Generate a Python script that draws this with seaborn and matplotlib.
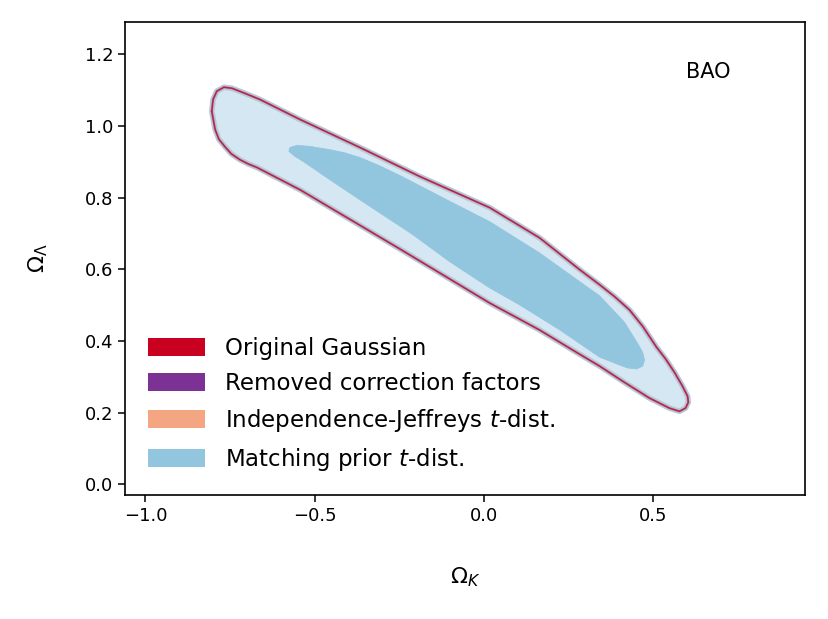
import matplotlib.pyplot as plt
import seaborn as sns
from matplotlib.patches import Patch

# === Contour outlines (Omega_K, Omega_Lambda) ===
# outer (95%) contour, shared by the four posteriors
outer_k = [-0.804, -0.800, -0.789, -0.768, -0.744, -0.706, -0.662, -0.543, -0.366, -0.189,
           0.018, 0.165, 0.284, 0.343, 0.387, 0.431, 0.471, 0.511, 0.538, 0.564,
           0.588, 0.603, 0.605, 0.597, 0.579, 0.549, 0.490, 0.411, 0.343, 0.263,
           0.165, 0.018, -0.130, -0.248, -0.366, -0.543, -0.670, -0.696, -0.721, -0.746,
           -0.765, -0.783, -0.794]
outer_l = [1.041, 1.074, 1.097, 1.108, 1.105, 1.091, 1.074, 1.018, 0.940, 0.859,
           0.772, 0.688, 0.599, 0.557, 0.524, 0.487, 0.440, 0.383, 0.350, 0.313,
           0.274, 0.246, 0.229, 0.213, 0.204, 0.213, 0.241, 0.288, 0.330, 0.375,
           0.431, 0.506, 0.590, 0.657, 0.723, 0.822, 0.884, 0.894, 0.906, 0.922,
           0.942, 0.963, 0.990]

# inner (68%) contour of the matching prior t-dist.
inner_k = [-0.576, -0.573, -0.552, -0.514, -0.455, -0.410, -0.366, -0.310, -0.248, -0.109,
           0.018, 0.165, 0.343, 0.416, 0.455, 0.470, 0.476, 0.470, 0.452, 0.425,
           0.402, 0.343, 0.225, 0.106, 0.018, -0.100, -0.210, -0.366, -0.455, -0.529,
           -0.558]
inner_l = [0.929, 0.940, 0.946, 0.943, 0.934, 0.925, 0.912, 0.890, 0.862, 0.794,
           0.733, 0.646, 0.526, 0.453, 0.394, 0.369, 0.347, 0.330, 0.322, 0.325,
           0.333, 0.355, 0.431, 0.501, 0.548, 0.621, 0.697, 0.794, 0.850, 0.898,
           0.915]

labels = ["Original Gaussian", "Removed correction factors",
          "Independence-Jeffreys $t$-dist.", "Matching prior $t$-dist."]
colors = ["#ca0020", "#7b3294", "#f4a582", "#92c5de"]
blue_light = "#d4e7f2"

sns.set_style("ticks")
plt.rcParams['font.family'] = ['DejaVu Sans']
plt.rcParams['mathtext.fontset'] = 'dejavusans'
for key in ["text.color", "axes.labelcolor", "xtick.color", "ytick.color", "axes.edgecolor"]:
    plt.rcParams[key] = "black"

fig = plt.figure(figsize=(8.29, 6.19), dpi=100)
ax = fig.add_axes([0.151, 0.2, 0.82, 0.7645])

# closed outlines
ok = outer_k + outer_k[:1]
ol = outer_l + outer_l[:1]

# matching prior: filled 95% and 68% regions
ax.fill(outer_k, outer_l, facecolor=blue_light, edgecolor="#b3cbda", lw=4,
        joinstyle="round", zorder=1)
ax.fill(inner_k, inner_l, facecolor=colors[3], edgecolor=colors[3], lw=0.5,
        joinstyle="round", zorder=3)

# the other posteriors only show up as thin edges
for c, w, a in [(colors[2], 2.0, 0.6), (colors[1], 1.4, 0.65), (colors[0], 0.8, 0.7)]:
    sns.lineplot(x=ok, y=ol, sort=False, estimator=None, color=c, lw=w,
                 alpha=a, ax=ax, zorder=2)

ax.set_xlim(-1.06, 0.95)
ax.set_ylim(-0.03, 1.29)
ax.set_xticks([-1.0, -0.5, 0.0, 0.5])
ax.set_yticks([0.0, 0.2, 0.4, 0.6, 0.8, 1.0, 1.2])
ax.tick_params(labelsize=13, length=5, width=1.1)
for s in ax.spines.values():
    s.set_linewidth(1.2)

ax.set_xlabel(r"$\Omega_K$", fontsize=16, labelpad=29)
ax.set_ylabel(r"$\Omega_\Lambda$", fontsize=16, labelpad=25)

ax.text(0.857, 0.894, "BAO", transform=ax.transAxes, ha="center", va="center", fontsize=15)

handles = [Patch(facecolor=c, edgecolor="none") for c in colors]
ax.legend(handles, labels, loc="lower left", bbox_to_anchor=(0.020, 0.028),
          borderaxespad=0, frameon=False, fontsize=16.5, handlelength=2.49,
          handleheight=0.87, labelspacing=0.52, handletextpad=0.87)

plt.savefig("out.png", dpi=100)
